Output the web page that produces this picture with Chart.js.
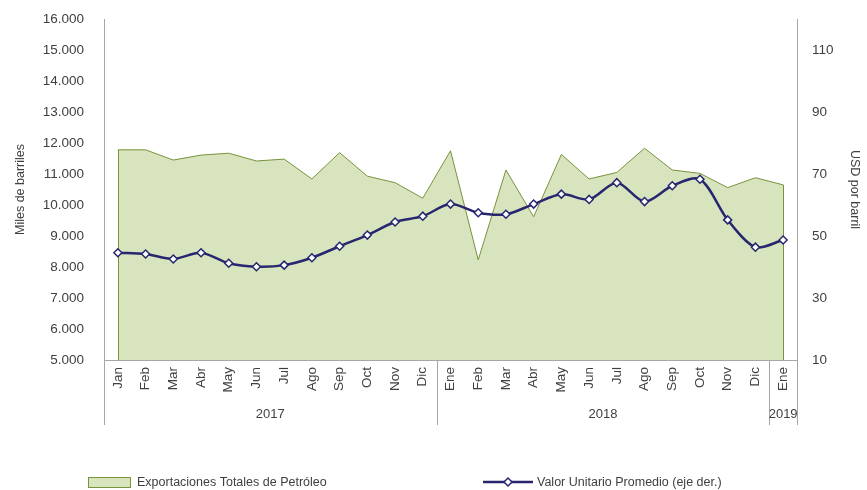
<!DOCTYPE html>
<html>
<head>
<meta charset="utf-8">
<script src="https://cdn.jsdelivr.net/npm/chart.js@4.4.0/dist/chart.umd.min.js"></script>
<style>
  html, body { margin: 0; padding: 0; background: #fff; }
  #wrap { width: 867px; height: 490px; }
</style>
</head>
<body>
<div id="wrap"><canvas id="grafico"></canvas></div>
<script>
// meses (ene 2017 - ene 2019)
const meses = ["Jan", "Feb", "Mar", "Abr", "May", "Jun", "Jul", "Ago", "Sep", "Oct", "Nov", "Dic",
  "Ene", "Feb", "Mar", "Abr", "May", "Jun", "Jul", "Ago", "Sep", "Oct", "Nov", "Dic", "Ene"];
const anios = [
  { texto: "2017", desde: 0, hasta: 11 },
  { texto: "2018", desde: 12, hasta: 23 },
  { texto: "2019", desde: 24, hasta: 24 }
];

// miles de barriles
const exportaciones = [11780, 11780, 11450, 11610, 11670, 11420, 11480, 10840, 11690, 10930, 10720, 10220,
  11750, 8230, 11130, 9620, 11630, 10840, 11050, 11830, 11130, 11020, 10560, 10880, 10650];

// USD por barril
const valorUnitario = [44.6, 44.2, 42.6, 44.6, 41.2, 40.1, 40.6, 43.0, 46.7, 50.3, 54.5, 56.4,
  60.3, 57.5, 57.0, 60.3, 63.5, 61.8, 67.2, 61.1, 66.2, 68.3, 55.2, 46.4, 48.7];

const ticksIzq = [5000, 6000, 7000, 8000, 9000, 10000, 11000, 12000, 13000, 14000, 15000, 16000];
const ticksDer = [10, 30, 50, 70, 90, 110];

const verde = "#77933C";
const verdeClaro = "#D7E4BD";
const azul = "#28266F";
const gris = "#A6A6A6";
const texto = "#404040";
const fuente = "'Liberation Sans', Arial, sans-serif";

function miles(v) {
  return String(v).replace(/\B(?=(\d{3})+(?!\d))/g, ".");
}

// sin relleno extra arriba/abajo de los ejes
function sinPadding(s) {
  s.paddingTop = 0;
  s.paddingBottom = 0;
}

// bordes verticales del área + años + leyenda
const extras = {
  id: "extras",
  afterDatasetDraw(chart, args) {
    if (args.index !== 0) return;
    const ctx = chart.ctx;
    const pts = args.meta.data;
    const fondo = chart.chartArea.bottom;
    ctx.save();
    ctx.strokeStyle = verde;
    ctx.lineWidth = 1;
    [pts[0], pts[pts.length - 1]].forEach(p => {
      ctx.beginPath();
      ctx.moveTo(Math.round(p.x) + 0.5, p.y);
      ctx.lineTo(Math.round(p.x) + 0.5, fondo);
      ctx.stroke();
    });
    ctx.restore();
  },
  afterDraw(chart) {
    const ctx = chart.ctx;
    const x = chart.scales.x;
    const area = chart.chartArea;
    const paso = x.getPixelForValue(1) - x.getPixelForValue(0);
    ctx.save();
    ctx.strokeStyle = gris;
    ctx.lineWidth = 1;
    const bordes = [area.left];
    anios.forEach(a => bordes.push(x.getPixelForValue(a.hasta) + paso / 2));
    bordes.forEach(b => {
      const bx = Math.round(b) + 0.5;
      ctx.beginPath();
      ctx.moveTo(bx, area.bottom);
      ctx.lineTo(bx, area.bottom + 65);
      ctx.stroke();
    });
    ctx.fillStyle = texto;
    ctx.font = "13px " + fuente;
    ctx.textAlign = "center";
    ctx.textBaseline = "middle";
    anios.forEach(a => {
      const c = (x.getPixelForValue(a.desde) + x.getPixelForValue(a.hasta)) / 2;
      ctx.fillText(a.texto, c, area.bottom + 54);
    });

    // leyenda
    const ly = 482;
    ctx.fillStyle = verdeClaro;
    ctx.strokeStyle = verde;
    ctx.fillRect(88, ly - 5, 42, 10);
    ctx.strokeRect(88.5, ly - 4.5, 42, 10);
    ctx.fillStyle = texto;
    ctx.font = "12.5px " + fuente;
    ctx.textAlign = "left";
    ctx.fillText("Exportaciones Totales de Petróleo", 137, ly + 1);

    ctx.strokeStyle = azul;
    ctx.lineWidth = 2.5;
    ctx.beginPath();
    ctx.moveTo(483, ly);
    ctx.lineTo(533, ly);
    ctx.stroke();
    ctx.fillStyle = "#fff";
    ctx.lineWidth = 1.5;
    ctx.beginPath();
    ctx.moveTo(508, ly - 4);
    ctx.lineTo(512, ly);
    ctx.lineTo(508, ly + 4);
    ctx.lineTo(504, ly);
    ctx.closePath();
    ctx.fill();
    ctx.stroke();
    ctx.fillStyle = texto;
    ctx.fillText("Valor Unitario Promedio (eje der.)", 537, ly + 1);
    ctx.restore();
  }
};

const ctx = document.getElementById("grafico").getContext("2d");
new Chart(ctx, {
  type: "line",
  data: {
    labels: meses,
    datasets: [
      {
        label: "Exportaciones Totales de Petróleo",
        data: exportaciones,
        yAxisID: "y",
        borderColor: verde,
        backgroundColor: verdeClaro,
        borderWidth: 1,
        pointRadius: 0,
        fill: "start",
        tension: 0,
        order: 2
      },
      {
        label: "Valor Unitario Promedio (eje der.)",
        data: valorUnitario,
        yAxisID: "y1",
        borderColor: azul,
        backgroundColor: "#fff",
        borderWidth: 2.5,
        pointStyle: "rectRot",
        pointRadius: 4,
        pointBorderWidth: 1.5,
        pointBorderColor: azul,
        pointBackgroundColor: "#fff",
        fill: false,
        tension: 0.3,
        order: 1
      }
    ]
  },
  options: {
    responsive: true,
    maintainAspectRatio: false,
    animation: false,
    layout: { padding: { top: 19, left: 0, right: 0, bottom: 0 } },
    plugins: {
      legend: { display: false },
      tooltip: { enabled: false }
    },
    scales: {
      x: {
        offset: true,
        grid: { display: false, drawTicks: false },
        border: { display: true, color: gris },
        ticks: {
          color: texto,
          font: { family: fuente, size: 13.5 },
          maxRotation: 90,
          minRotation: 90,
          autoSkip: false,
          padding: 7
        },
        afterFit(s) {
          s.height = 130;
          s.paddingLeft = 0;
          s.paddingRight = 0;
        }
      },
      y: {
        position: "left",
        min: 5000,
        max: 16000,
        grid: { display: false, drawTicks: false },
        border: { display: true, color: gris },
        afterBuildTicks(s) { s.ticks = ticksIzq.map(v => ({ value: v })); },
        ticks: {
          color: texto,
          font: { family: fuente, size: 13.5 },
          padding: 20,
          callback: v => miles(v)
        },
        title: {
          display: true,
          text: "Miles de barriles",
          color: texto,
          font: { family: fuente, size: 12.5 },
          padding: { top: 13, bottom: 0 }
        },
        afterFit(s) { s.width = 104; sinPadding(s); }
      },
      y1: {
        position: "right",
        min: 10,
        max: 120,
        grid: { display: false, drawTicks: false },
        border: { display: true, color: gris },
        afterBuildTicks(s) { s.ticks = ticksDer.map(v => ({ value: v })); },
        ticks: {
          color: texto,
          font: { family: fuente, size: 13.5 },
          padding: 15
        },
        title: {
          display: true,
          text: "USD por barril",
          color: texto,
          font: { family: fuente, size: 12.5 },
          padding: { top: 5, bottom: 0 }
        },
        afterFit(s) { s.width = 70; sinPadding(s); }
      }
    }
  },
  plugins: [extras]
});
</script>
</body>
</html>
